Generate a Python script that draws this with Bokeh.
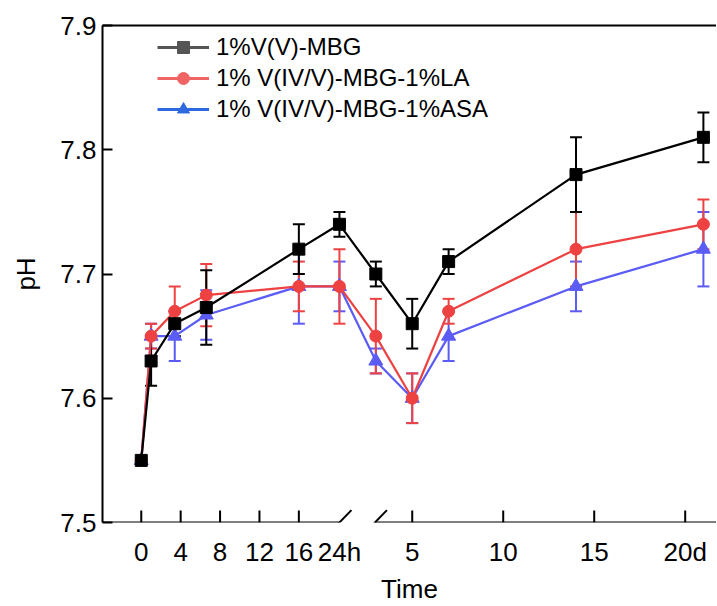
import numpy as np
from bokeh.plotting import figure
from bokeh.models import (Range1d, FixedTicker, LinearAxis, Whisker, TeeHead,
                          ColumnDataSource, Legend, LegendItem, Arrow)
from bokeh.embed import file_html
from bokeh.resources import INLINE

# ---------------- data ----------------
hours = [0, 1, 3.4, 6.6, 16, 24]          # first part of the time axis (h)
days = [3, 5, 7, 14, 21]                  # second part of the time axis (d)

names = ["1%V(V)-MBG", "1% V(IV/V)-MBG-1%LA", "1% V(IV/V)-MBG-1%ASA"]

ph_v = [7.55, 7.63, 7.66, 7.673, 7.72, 7.74, 7.70, 7.66, 7.71, 7.78, 7.81]
err_v = [0.0, 0.02, 0.01, 0.03, 0.02, 0.01, 0.01, 0.02, 0.01, 0.03, 0.02]

ph_la = [7.55, 7.65, 7.67, 7.683, 7.69, 7.69, 7.65, 7.60, 7.67, 7.72, 7.74]
err_la = [0.0, 0.01, 0.02, 0.025, 0.02, 0.03, 0.03, 0.02, 0.01, 0.03, 0.02]

ph_asa = [7.55, 7.65, 7.65, 7.667, 7.69, 7.69, 7.63, 7.60, 7.65, 7.69, 7.72]
err_asa = [0.0, 0.01, 0.02, 0.02, 0.03, 0.02, 0.01, 0.02, 0.02, 0.02, 0.03]

hour_ticks = [0, 4, 8, 12, 16]
day_ticks = [5, 10, 15, 20]
hour_tick_labels = ["0", "4", "8", "12", "16"]
day_tick_labels = ["5", "10", "15", "20d"]
break_label = "24h"
yticks = [7.5, 7.6, 7.7, 7.8, 7.9]

# ---------------- broken time-axis scale ----------------
# hours 0..16 linear, 16..24 h compressed, from 24 h (= day 1) on linear in days
HOUR_KNOTS = [0, 16, 24]
HOUR_AXIS = [-9.89, -1.23, 1.0]
X_START, X_END = -12.02, 21.72
Y_START, Y_END = 7.5, 7.9
BREAK_L, BREAK_R = 1.0, 2.95
TICK_LEN = 0.0096      # inward tick length in pH units (about 12 px)


def hpos(h):
    return [float(v) for v in np.interp(h, HOUR_KNOTS, HOUR_AXIS)]


def axis_pos(hrs, dys):
    return hpos(hrs) + [float(d) for d in dys]


xpos = axis_pos(hours, days)

FONT = "Liberation Sans"

p = figure(width=716, height=606, x_range=Range1d(X_START, X_END),
           y_range=Range1d(Y_START, Y_END), output_backend="svg",
           toolbar_location=None, min_border_left=102, min_border_right=0,
           min_border_top=25, min_border_bottom=83)
p.grid.visible = False
p.outline_line_color = None
p.background_fill_color = "white"

# x axis: labels from the axis, tick marks drawn as inward segments
tick_pos = hpos(hour_ticks) + [float(d) for d in day_ticks]
lab_pos = hpos(hour_ticks) + hpos([24]) + [float(d) for d in day_ticks]
lab_txt = hour_tick_labels + [break_label] + day_tick_labels
p.xaxis.ticker = FixedTicker(ticks=lab_pos)
p.xaxis.major_label_overrides = {t: s for t, s in zip(lab_pos, lab_txt)}
p.xaxis.axis_line_color = None
p.xaxis.major_tick_line_color = None
p.xaxis.major_tick_in = 0
p.xaxis.major_tick_out = 0
p.xaxis.minor_tick_line_color = None
p.xaxis.major_label_standoff = 14
p.xaxis.major_label_text_font = FONT
p.xaxis.major_label_text_font_size = "26px"
p.xaxis.major_label_text_color = "black"
p.xaxis.axis_label = "Time"
p.xaxis.axis_label_text_font = FONT
p.xaxis.axis_label_text_font_size = "26px"
p.xaxis.axis_label_text_font_style = "normal"
p.xaxis.axis_label_text_color = "black"
p.xaxis.axis_label_standoff = 4

p.segment(x0=tick_pos, y0=[Y_START] * len(tick_pos), x1=tick_pos,
          y1=[Y_START + TICK_LEN] * len(tick_pos), line_color="black",
          line_width=2)

# y axis
p.yaxis.ticker = FixedTicker(ticks=yticks)
p.yaxis.major_label_overrides = {t: f"{t:.1f}" for t in yticks}
p.yaxis.axis_line_width = 2
p.yaxis.major_tick_in = 10
p.yaxis.major_tick_out = 0
p.yaxis.major_tick_line_width = 2
p.yaxis.minor_tick_line_color = None
p.yaxis.major_label_standoff = 6
p.yaxis.major_label_text_font = FONT
p.yaxis.major_label_text_font_size = "26px"
p.yaxis.major_label_text_color = "black"
p.yaxis.axis_label = "pH"
p.yaxis.axis_label_text_font = FONT
p.yaxis.axis_label_text_font_size = "26px"
p.yaxis.axis_label_text_font_style = "normal"
p.yaxis.axis_label_text_color = "black"
p.yaxis.axis_label_standoff = 16

# top border line
top = LinearAxis(ticker=FixedTicker(ticks=[]), axis_line_width=2,
                 major_label_text_font_size="0px", minor_tick_line_color=None,
                 major_tick_line_color=None)
p.add_layout(top, "above")

# broken bottom axis line with break marks
p.add_layout(Arrow(end=None, x_start=X_START, y_start=Y_START, x_end=BREAK_L,
                   y_end=Y_START, line_width=2, line_color="black"))
p.add_layout(Arrow(end=None, x_start=BREAK_R, y_start=Y_START, x_end=X_END,
                   y_end=Y_START, line_width=2, line_color="black"))
for c in (BREAK_L, BREAK_R):
    p.add_layout(Arrow(end=None, x_start=c - 0.66, y_start=Y_START - 0.01,
                       x_end=c + 0.66, y_end=Y_START + 0.01,
                       line_width=2, line_color="black"))

# ---------------- series ----------------
series = [
    (ph_asa, err_asa, "#5b5bf5", "triangle", 14),
    (ph_la, err_la, "#ee4242", "circle", 12),
    (ph_v, err_v, "#000000", "square", 12),
]
for vals, errs, col, mk, sz in series:
    keep = [i for i, e in enumerate(errs) if e > 0]
    wsrc = ColumnDataSource(dict(
        x=[xpos[i] for i in keep],
        upper=[vals[i] + errs[i] for i in keep],
        lower=[vals[i] - errs[i] for i in keep]))
    p.add_layout(Whisker(source=wsrc, base="x", upper="upper", lower="lower",
                         line_color=col, line_width=2,
                         upper_head=TeeHead(size=12, line_color=col, line_width=2),
                         lower_head=TeeHead(size=12, line_color=col, line_width=2)))
    src = ColumnDataSource(dict(x=xpos, y=vals))
    p.line("x", "y", source=src, line_color=col, line_width=2.2)
    p.scatter("x", "y", source=src, marker=mk, size=sz, fill_color=col,
              line_color=col)

# ---------------- legend (own swatches, drawn outside the visible range) ----
leg_cols = ["#555555", "#f06464", "#2d6ae0"]
leg_marks = ["square", "circle", "triangle"]
items = []
for nm, col, mk in zip(names, leg_cols, leg_marks):
    off = dict(x=[X_START - 50], y=[Y_START - 1])
    lr = p.line(x=off["x"], y=off["y"], line_color=col, line_width=3)
    sr = p.scatter(x=off["x"], y=off["y"], marker=mk, size=13,
                   fill_color=col, line_color=col)
    items.append(LegendItem(label=nm, renderers=[lr, sr]))

legend = Legend(items=items, location=(55, 398), padding=0, margin=0, spacing=1,
                glyph_width=52, glyph_height=30, label_height=30,
                label_standoff=7, label_text_font=FONT,
                label_text_font_size="24px", label_text_color="black",
                background_fill_alpha=0, border_line_alpha=0)
p.add_layout(legend)

open("out.html", "w").write(file_html(p, INLINE))
